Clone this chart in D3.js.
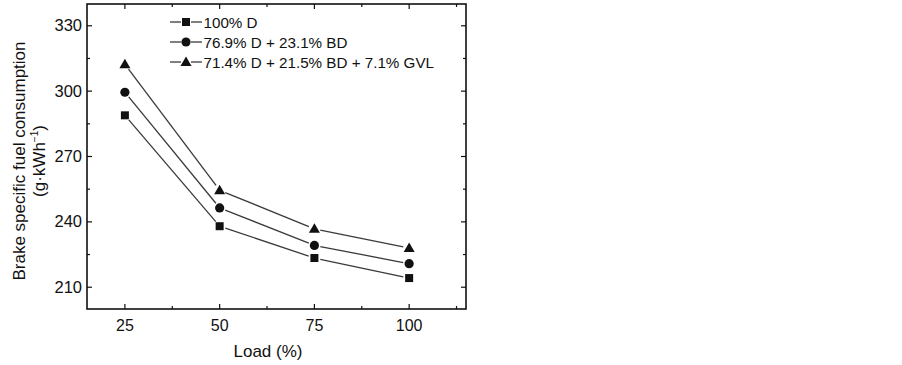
<!DOCTYPE html>
<html><head><meta charset="utf-8">
<script src="https://cdn.jsdelivr.net/npm/d3@7"></script>
<style>
body{margin:0;background:#fff;}
svg text{font-family:"Liberation Sans",Arial,sans-serif;fill:#111;}
</style></head>
<body><svg id="c" width="902" height="365"></svg>
<script>
const loads = [25, 50, 75, 100];
const seriesNames = ["100% D", "76.9% D + 23.1% BD", "71.4% D + 21.5% BD + 7.1% GVL"];
const valuesD = [288.9, 238.0, 223.4, 214.2];
const valuesBD = [299.5, 246.4, 229.2, 220.8];
const valuesGVL = [312.3, 254.5, 236.8, 228.0];
const markerTypes = ["square", "circle", "triangle"];
const xTicks = [25, 50, 75, 100];
const yTicks = [210, 240, 270, 300, 330];

const series = [valuesD, valuesBD, valuesGVL].map((v, i) => ({name: seriesNames[i], values: v, marker: markerTypes[i]}));

const svg = d3.select("#c");
const L = 87, R = 466, T = 4, B = 309;
const x = d3.scaleLinear().domain([15, 115]).range([L, R]);
const y = d3.scaleLinear().domain([200, 340]).range([B, T]);
const lineColor = "#3a3a3a", ink = "#111";

// ticks (inward, mirrored)
const xMinor = d3.range(12.5, 115, 12.5).filter(v => v > 15 && !xTicks.includes(v));
const yMinor = d3.range(210, 340, 15).filter(v => !yTicks.includes(v));
const g = svg.append("g").attr("stroke", ink).attr("stroke-width", 1.2);
xTicks.forEach(v => {
  g.append("line").attr("x1", x(v)).attr("x2", x(v)).attr("y1", B).attr("y2", B - 5);
  g.append("line").attr("x1", x(v)).attr("x2", x(v)).attr("y1", T).attr("y2", T + 5);
});
xMinor.forEach(v => {
  g.append("line").attr("x1", x(v)).attr("x2", x(v)).attr("y1", B).attr("y2", B - 3);
  g.append("line").attr("x1", x(v)).attr("x2", x(v)).attr("y1", T).attr("y2", T + 3);
});
yTicks.forEach(v => {
  g.append("line").attr("x1", L).attr("x2", L + 5).attr("y1", y(v)).attr("y2", y(v));
  g.append("line").attr("x1", R).attr("x2", R - 5).attr("y1", y(v)).attr("y2", y(v));
});
yMinor.forEach(v => {
  g.append("line").attr("x1", L).attr("x2", L + 3).attr("y1", y(v)).attr("y2", y(v));
  g.append("line").attr("x1", R).attr("x2", R - 3).attr("y1", y(v)).attr("y2", y(v));
});
svg.append("rect").attr("x", L).attr("y", T).attr("width", R - L).attr("height", B - T)
  .attr("fill", "none").attr("stroke", ink).attr("stroke-width", 1.6);

// tick labels
svg.append("g").selectAll("text").data(xTicks).join("text")
  .attr("x", d => x(d)).attr("y", 330.5).attr("text-anchor", "middle")
  .attr("font-size", 16).text(d => d);
svg.append("g").selectAll("text").data(yTicks).join("text")
  .attr("x", 82).attr("y", d => y(d) + 5.5).attr("text-anchor", "end")
  .attr("font-size", 16.5).text(d => d);

// axis titles
svg.append("text").attr("x", 268).attr("y", 357).attr("text-anchor", "middle")
  .attr("font-size", 17).text("Load (%)");
const yt = svg.append("g").attr("transform", "translate(0,161) rotate(-90)");
yt.append("text").attr("x", 0).attr("y", 25).attr("text-anchor", "middle")
  .attr("font-size", 17).text("Brake specific fuel consumption");
const t2 = yt.append("text").attr("x", 0).attr("y", 45).attr("text-anchor", "middle").attr("font-size", 17);
t2.append("tspan").text("(g·kWh");
t2.append("tspan").attr("dy", -7).attr("font-size", 10).text("−1");
t2.append("tspan").attr("dy", 7).text(")");

function marker(sel, type, cx, cy) {
  if (type === "square") sel.append("rect").attr("x", cx - 4).attr("y", cy - 4).attr("width", 8).attr("height", 8).attr("fill", ink);
  else if (type === "circle") sel.append("circle").attr("cx", cx).attr("cy", cy).attr("r", 4.6).attr("fill", ink);
  else sel.append("path").attr("d", `M${cx},${cy - 5.5}L${cx + 5.5},${cy + 4}L${cx - 5.5},${cy + 4}Z`).attr("fill", ink);
}

// lines with gaps
const gap = 6;
series.forEach(s => {
  const pts = loads.map((l, i) => [x(l), y(s.values[i])]);
  for (let i = 0; i < pts.length - 1; i++) {
    const [x1, y1] = pts[i], [x2, y2] = pts[i + 1];
    const d = Math.hypot(x2 - x1, y2 - y1), ux = (x2 - x1) / d, uy = (y2 - y1) / d;
    svg.append("line").attr("x1", x1 + ux * gap).attr("y1", y1 + uy * gap)
      .attr("x2", x2 - ux * gap).attr("y2", y2 - uy * gap)
      .attr("stroke", lineColor).attr("stroke-width", 1.3);
  }
  const mg = svg.append("g");
  pts.forEach(p => marker(mg, s.marker, p[0], p[1]));
});

// legend
series.forEach((s, i) => {
  const ly = 22 + i * 20;
  svg.append("line").attr("x1", 170).attr("x2", 181).attr("y1", ly).attr("y2", ly).attr("stroke", lineColor).attr("stroke-width", 1.3);
  svg.append("line").attr("x1", 191).attr("x2", 202).attr("y1", ly).attr("y2", ly).attr("stroke", lineColor).attr("stroke-width", 1.3);
  marker(svg, s.marker, 186, ly);
  svg.append("text").attr("x", 203.5).attr("y", ly + 5.5).attr("font-size", 15.2).text(s.name);
});
</script></body></html>
